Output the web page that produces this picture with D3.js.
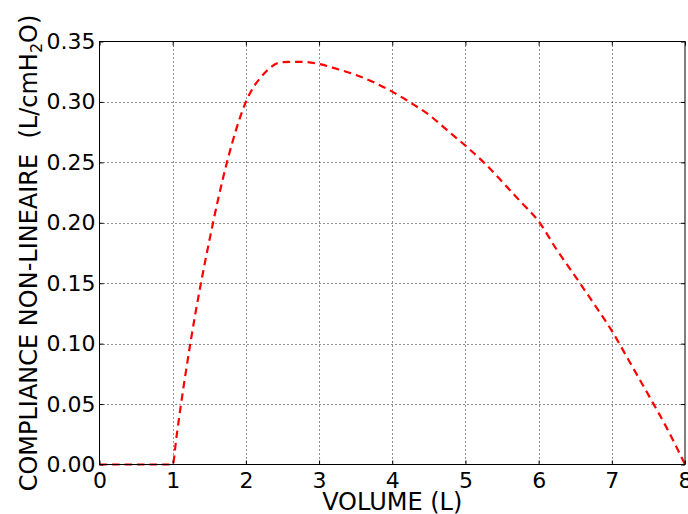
<!DOCTYPE html>
<html>
<head>
<meta charset="utf-8">
<script src="https://cdn.jsdelivr.net/npm/d3@7"></script>
<style>
  html, body { margin: 0; padding: 0; background: #fff; }
  svg { display: block; }
  text { font-family: "DejaVu Sans", sans-serif; fill: #000; }
</style>
</head>
<body>
<svg id="chart" width="688" height="514"></svg>
<script>
// ---- data ----
const volume = [0, 0.5, 1.0, 1.05, 1.1, 1.25, 1.5, 1.75, 2.0, 2.25, 2.5, 2.75, 3.0, 3.25, 3.5, 3.75,
                4.0, 4.25, 4.5, 4.75, 5.0, 5.25, 5.5, 5.75, 6.0, 6.25, 6.5, 6.75, 7.0, 7.25, 7.5, 7.75, 8.0];
const compliance = [0, 0, 0, 0.022, 0.044, 0.1034, 0.185, 0.252, 0.300, 0.3235, 0.3330, 0.3332, 0.3314, 0.3272, 0.3224, 0.3162,
                    0.3085, 0.2994, 0.2894, 0.2766, 0.2638, 0.2500, 0.2341, 0.2177, 0.2012, 0.1775, 0.1557, 0.1335, 0.1106, 0.0842, 0.0576, 0.0303, 0];
const xTicks = [0, 1, 2, 3, 4, 5, 6, 7, 8];
const yTicks = [0, 0.05, 0.10, 0.15, 0.20, 0.25, 0.30, 0.35];
const xLabel = "VOLUME (L)";
const yLabelMain = "COMPLIANCE NON-LINEAIRE  (L/cmH";
const yLabelSub = "2";
const yLabelEnd = "O)";

// ---- layout ----
const svg = d3.select("#chart");
const L = 99.5, R = 685, T = 41.5, B = 464.5;
const x = d3.scaleLinear().domain([0, 8]).range([L, R]);
const y = d3.scaleLinear().domain([0, 0.35]).range([B, T]);

// grid
const grid = svg.append("g");
grid.selectAll(".gx").data(xTicks.slice(1, -1)).enter().append("line")
  .attr("x1", d => Math.round(x(d)) + 0.5).attr("x2", d => Math.round(x(d)) + 0.5)
  .attr("y1", T).attr("y2", B)
  .attr("stroke", "#222").attr("stroke-width", 1).attr("stroke-dasharray", "1,3");
grid.selectAll(".gy").data(yTicks.slice(1, -1)).enter().append("line")
  .attr("y1", d => Math.round(y(d)) + 0.5).attr("y2", d => Math.round(y(d)) + 0.5)
  .attr("x1", L).attr("x2", R)
  .attr("stroke", "#222").attr("stroke-width", 1).attr("stroke-dasharray", "1,3");

// curve
const line = d3.line().x((d, i) => x(volume[i])).y(d => y(d)).curve(d3.curveMonotoneX);
svg.append("path").datum(compliance)
  .attr("d", line)
  .attr("fill", "none").attr("stroke", "#ff0000").attr("stroke-width", 2.2)
  .attr("stroke-dasharray", "7.5,5");

// axes (inward ticks on all sides)
const fmtY = d3.format(".2f");
const axBottom = svg.append("g").attr("transform", `translate(0,${B})`)
  .call(d3.axisBottom(x).tickValues(xTicks).tickFormat(d3.format("d")).tickSizeInner(-4).tickSizeOuter(0).tickPadding(8));
const axTop = svg.append("g").attr("transform", `translate(0,${T})`)
  .call(d3.axisTop(x).tickValues(xTicks).tickFormat("").tickSizeInner(-4).tickSizeOuter(0));
const axLeft = svg.append("g").attr("transform", `translate(${L},0)`)
  .call(d3.axisLeft(y).tickValues(yTicks).tickFormat(fmtY).tickSizeInner(-4).tickSizeOuter(0).tickPadding(4));
const axRight = svg.append("g").attr("transform", `translate(${R},0)`)
  .call(d3.axisRight(y).tickValues(yTicks).tickFormat("").tickSizeInner(-4).tickSizeOuter(0));

[axBottom, axTop, axLeft, axRight].forEach(g => {
  g.select(".domain").remove();
  g.selectAll(".tick line").attr("stroke", "#000").attr("stroke-width", 1);
  g.selectAll(".tick text").attr("font-family", "DejaVu Sans").attr("font-size", 22).attr("fill", "#000");
});

// frame
svg.append("rect").attr("x", L).attr("y", T).attr("width", R - L).attr("height", B - T)
  .attr("fill", "none").attr("stroke", "#000").attr("stroke-width", 1);

// axis labels
svg.append("text").attr("x", (L + R) / 2).attr("y", 510)
  .attr("text-anchor", "middle").attr("font-size", 24).text(xLabel);

const yl = svg.append("text")
  .attr("transform", `translate(37,${(T + B) / 2}) rotate(-90)`)
  .attr("text-anchor", "middle").attr("font-size", 24)
  .style("white-space", "pre");
yl.append("tspan").text(yLabelMain);
yl.append("tspan").attr("font-size", 16).attr("dy", 5).text(yLabelSub);
yl.append("tspan").attr("dy", -5).text(yLabelEnd);
</script>
</body>
</html>
